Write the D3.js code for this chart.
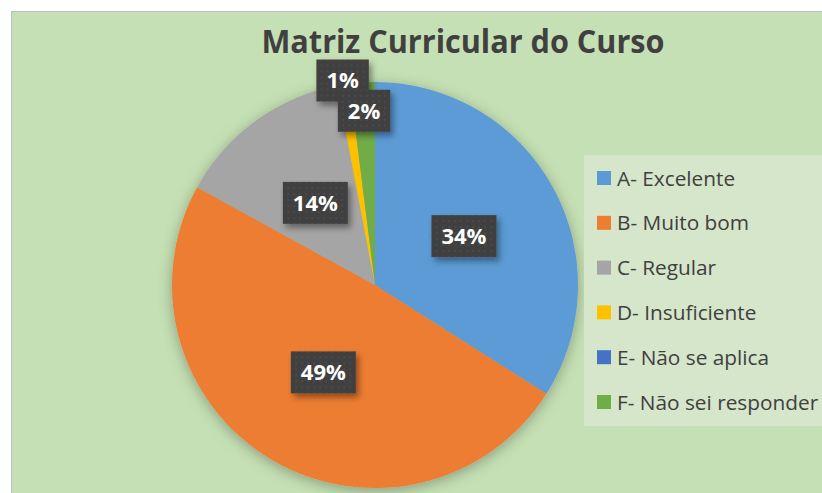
<!DOCTYPE html>
<html>
<head>
<meta charset="utf-8">
<script src="https://cdn.jsdelivr.net/npm/d3@7"></script>
<style>
  body { margin: 0; background: #fff; }
  svg { display: block; font-family: "Open Sans", sans-serif; }
</style>
</head>
<body>
<script>
// chart data
const title = "Matriz Curricular do Curso";
const categories = ["A- Excelente", "B- Muito bom", "C- Regular", "D- Insuficiente", "E- Não se aplica", "F- Não sei responder"];
const values = [34, 49, 14, 1, 0, 2];
const colors = ["#5B9BD5", "#ED7D31", "#A5A5A5", "#FFC000", "#4472C4", "#70AD47"];

const width = 822, height = 493;
const cx = 375, cy = 285, radius = 203;

const data = categories.map((c, i) => ({ name: c, value: values[i] }));

const color = d3.scaleOrdinal().domain(categories).range(colors);

const svg = d3.select("body").append("svg")
    .attr("width", width)
    .attr("height", height);

const defs = svg.append("defs");

// soft shadow under the pie
const pieShadow = defs.append("filter").attr("id", "pieShadow")
    .attr("x", "-20%").attr("y", "-20%").attr("width", "140%").attr("height", "140%");
pieShadow.append("feDropShadow")
    .attr("dx", 0).attr("dy", 3).attr("stdDeviation", 7)
    .attr("flood-color", "#000").attr("flood-opacity", 0.3);

// shadow for the label boxes
const boxShadow = defs.append("filter").attr("id", "boxShadow")
    .attr("x", "-30%").attr("y", "-30%").attr("width", "160%").attr("height", "160%");
boxShadow.append("feDropShadow")
    .attr("dx", 3).attr("dy", 4).attr("stdDeviation", 3)
    .attr("flood-color", "#000").attr("flood-opacity", 0.4);

// dotted texture of the label boxes
const pat = defs.append("pattern").attr("id", "dots")
    .attr("width", 6).attr("height", 6).attr("patternUnits", "userSpaceOnUse");
pat.append("rect").attr("width", 6).attr("height", 6).attr("fill", "#404040");
pat.append("circle").attr("cx", 3).attr("cy", 3).attr("r", 1).attr("fill", "#4d4d4d");

// chart area background
svg.append("rect")
    .attr("x", 11.5).attr("y", 11.5)
    .attr("width", width + 20).attr("height", height + 20)
    .attr("fill", "#C5E0B4")
    .attr("stroke", "#BFBFBF");

// title
svg.append("text")
    .attr("x", 463).attr("y", 53)
    .attr("text-anchor", "middle")
    .attr("font-size", 33)
    .attr("font-weight", "bold")
    .attr("fill", "#404040")
    .attr("textLength", 403)
    .attr("lengthAdjust", "spacingAndGlyphs")
    .text(title);

// pie
const pie = d3.pie().sort(null).value(d => d.value);
const arcs = pie(data);

const arc = d3.arc().innerRadius(0).outerRadius(radius);

const g = svg.append("g")
    .attr("transform", "translate(" + cx + "," + cy + ")");

g.append("g")
    .attr("filter", "url(#pieShadow)")
    .selectAll("path")
    .data(arcs)
    .enter().append("path")
    .attr("d", arc)
    .attr("fill", d => color(d.data.name));

// label radius (fraction of radius); small slices are pushed out like excel does
const labelPos = { "D- Insuficiente": 1.02, "F- Não sei responder": 0.86 };

const labels = g.selectAll(".lbl")
    .data(arcs.filter(d => d.data.value > 0))
    .enter().append("g")
    .attr("class", "lbl")
    .attr("transform", function(d) {
        const r = radius * (labelPos[d.data.name] || 0.5);
        const a = (d.startAngle + d.endAngle) / 2;
        return "translate(" + (Math.sin(a) * r) + "," + (-Math.cos(a) * r) + ")";
    });

labels.append("rect").attr("class", "box");
labels.append("text")
    .attr("text-anchor", "middle")
    .attr("dy", "0.36em")
    .attr("font-size", 22)
    .attr("font-weight", "bold")
    .attr("fill", "#fff")
    .text(d => d.data.value + "%");

labels.each(function() {
    const t = d3.select(this).select("text").node();
    const w = t.getComputedTextLength() + 20;
    d3.select(this).select("rect")
        .attr("x", -w / 2).attr("y", -21)
        .attr("width", w).attr("height", 42)
        .attr("fill", "url(#dots)")
        .attr("filter", "url(#boxShadow)");
});

// legend
const legend = svg.append("g");
legend.append("rect")
    .attr("x", 584).attr("y", 155)
    .attr("width", 250).attr("height", 271)
    .attr("fill", "#D6E6CA");

const rows = legend.selectAll(".row")
    .data(categories)
    .enter().append("g")
    .attr("class", "row")
    .attr("transform", (d, i) => "translate(597," + (178 + i * 44.8) + ")");

rows.append("rect")
    .attr("x", 0).attr("y", -7)
    .attr("width", 14).attr("height", 14)
    .attr("fill", d => color(d));

rows.append("text")
    .attr("x", 20)
    .attr("dy", "0.36em")
    .attr("font-size", 20.8)
    .attr("fill", "#404040")
    .text(d => d);
</script>
</body>
</html>
